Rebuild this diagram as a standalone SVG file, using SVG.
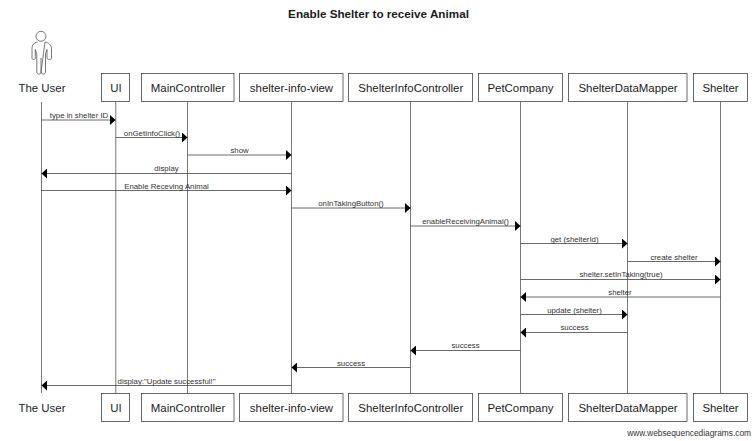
<svg xmlns="http://www.w3.org/2000/svg" width="756" height="441" viewBox="0 0 756 441">
<style>
text{font-family:"Liberation Sans",Arial,sans-serif;fill:#1c1c1c}
.t{font-size:11.7px;font-weight:bold;text-anchor:middle}
.n{font-size:11.45px;text-anchor:middle}
.m{font-size:7.8px;text-anchor:middle;fill:#333}
.w{font-size:8.35px;text-anchor:end;fill:#333}
.b{fill:#fff;stroke:#444;stroke-width:.8}
.l{stroke:#555;stroke-width:.8;fill:none}
.a{stroke:#444;stroke-width:.8;fill:none;marker-end:url(#h)}
</style>
<defs><marker id="h" markerUnits="userSpaceOnUse" markerWidth="7" markerHeight="10" refX="5.500" refY="5" orient="auto"><path d="M0 0L5.500 5L0 10Z" fill="#000"/></marker></defs>
<rect width="756" height="441" fill="#fff"/>
<text class="t" x="378.500" y="17.500">Enable Shelter to receive Animal</text>
<g id="lifelines">
<path class="l" d="M41.500 102V393M115.800 102V393M187.500 102V393M291.500 102V393M410.500 102V393M520.500 102V393M627.500 102V393M720.500 102V393"/>
</g>
<g id="connectors">
<path class="a" d="M41.500 120H115.500"/><path class="a" d="M115.800 137.500H187.500"/><path class="a" d="M187.500 155H291.500"/><path class="a" d="M291.500 173.500H41.500"/><path class="a" d="M41.500 190.500H291.500"/><path class="a" d="M291.500 208H410.500"/><path class="a" d="M410.500 226H520.500"/><path class="a" d="M520.500 243.500H627.500"/><path class="a" d="M627.500 261.500H720.500"/><path class="a" d="M520.500 279.500H720.500"/><path class="a" d="M720.500 297H520.500"/><path class="a" d="M520.500 314.500H627.500"/><path class="a" d="M627.500 332.500H520.500"/><path class="a" d="M520.500 350.500H410.500"/><path class="a" d="M410.500 367.500H291.500"/><path class="a" d="M291.500 385.500H41.500"/>
</g>
<g id="labels">
<text class="m" x="79" y="117.500">type in shelter ID</text>
<text class="m" x="152" y="135.500">onGetInfoClick()</text>
<text class="m" x="239.500" y="153">show</text>
<text class="m" x="166.500" y="171">display</text>
<text class="m" x="166.500" y="188.500">Enable Receving Animal</text>
<text class="m" x="351" y="206">onInTakingButton()</text>
<text class="m" x="465.500" y="224">enableReceivingAnimal()</text>
<text class="m" x="574.500" y="242">get (shelterId)</text>
<text class="m" x="674" y="259.500">create shelter</text>
<text class="m" x="621" y="277">shelter.setInTaking(true)</text>
<text class="m" x="620" y="295">shelter</text>
<text class="m" x="574.500" y="312.500">update (shelter)</text>
<text class="m" x="574.500" y="330">success</text>
<text class="m" x="465.500" y="348">success</text>
<text class="m" x="351" y="365.500">success</text>
<text class="m" x="166.500" y="383.500">display:"Update successful!"</text>
</g>
<g id="actor-top"><circle cx="41" cy="36.300" r="5" fill="#fff" stroke="#555" stroke-width=".8"/><path fill="#fff" stroke="#555" stroke-width=".8" d="M37.500 42C34 42.500 32 45 32 48.500V58C32 60 35.300 60 35.300 58V49.500M35.300 49.500L36.800 54V72C36.800 74.800 41 74.800 41 72V58M41 72C41 74.800 45.500 74.800 45.500 72V54L47 49.500V58C47 60 51.500 60 51.500 58V48.500C51.500 45 48.500 42.500 45 42Z"/><text class="n" x="42" y="91.700">The User</text></g>
<g id="actor-bottom"><text class="n" x="42" y="411.700">The User</text></g>
<g id="ui-top"><rect class="b" x="101.500" y="73.500" width="28" height="28"/><text class="n" x="116" y="91.700">UI</text></g>
<g id="main-top"><rect class="b" x="141.500" y="73.500" width="92.500" height="28"/><text class="n" x="188" y="91.700">MainController</text></g>
<g id="view-top"><rect class="b" x="239.500" y="73.500" width="103.500" height="28"/><text class="n" x="291.500" y="91.700">shelter-info-view</text></g>
<g id="info-top"><rect class="b" x="348.500" y="73.500" width="124" height="28"/><text class="n" x="410.800" y="91.700">ShelterInfoController</text></g>
<g id="pet-top"><rect class="b" x="478.500" y="73.500" width="84" height="28"/><text class="n" x="520.500" y="91.700">PetCompany</text></g>
<g id="mapper-top"><rect class="b" x="568.500" y="73.500" width="118.500" height="28"/><text class="n" x="628" y="91.700">ShelterDataMapper</text></g>
<g id="shelter-top"><rect class="b" x="693.500" y="73.500" width="54" height="28"/><text class="n" x="720.500" y="91.700">Shelter</text></g>
<g id="ui-bottom"><rect class="b" x="101.500" y="393.500" width="28" height="28"/><text class="n" x="116" y="411.700">UI</text></g>
<g id="main-bottom"><rect class="b" x="141.500" y="393.500" width="92.500" height="28"/><text class="n" x="188" y="411.700">MainController</text></g>
<g id="view-bottom"><rect class="b" x="239.500" y="393.500" width="103.500" height="28"/><text class="n" x="291.500" y="411.700">shelter-info-view</text></g>
<g id="info-bottom"><rect class="b" x="348.500" y="393.500" width="124" height="28"/><text class="n" x="410.800" y="411.700">ShelterInfoController</text></g>
<g id="pet-bottom"><rect class="b" x="478.500" y="393.500" width="84" height="28"/><text class="n" x="520.500" y="411.700">PetCompany</text></g>
<g id="mapper-bottom"><rect class="b" x="568.500" y="393.500" width="118.500" height="28"/><text class="n" x="628" y="411.700">ShelterDataMapper</text></g>
<g id="shelter-bottom"><rect class="b" x="693.500" y="393.500" width="54" height="28"/><text class="n" x="720.500" y="411.700">Shelter</text></g>
<text class="w" x="751" y="436">www.websequencediagrams.com</text>
</svg>
